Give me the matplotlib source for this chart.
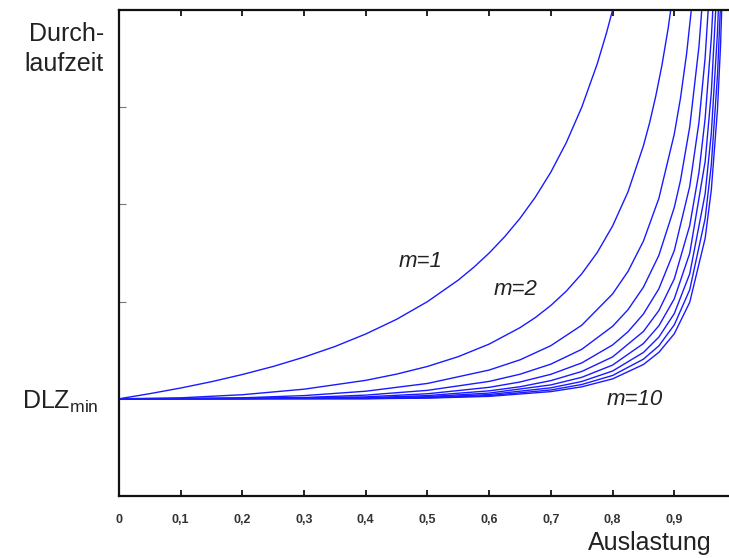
import matplotlib
matplotlib.use("Agg")
import matplotlib.pyplot as plt

plt.rcParams['font.family'] = ['Liberation Sans', 'DejaVu Sans']
plt.rcParams['mathtext.fontset'] = 'custom'
plt.rcParams['mathtext.rm'] = 'Liberation Sans'
plt.rcParams['mathtext.it'] = 'Liberation Sans:italic'

# Auslastung (rho) und Durchlaufzeit (in Vielfachen von DLZ_min)
rho_m1 = [0, 0.05, 0.1, 0.15, 0.2, 0.25, 0.3, 0.35, 0.4, 0.45, 0.5, 0.55, 0.575, 0.6,
          0.625, 0.65, 0.675, 0.7, 0.725, 0.75, 0.775, 0.79, 0.8, 0.82]
dlz_m1 = [1, 1.053, 1.111, 1.176, 1.25, 1.333, 1.429, 1.538, 1.667, 1.818, 2.0, 2.222, 2.353, 2.5,
          2.667, 2.857, 3.077, 3.333, 3.636, 4.0, 4.444, 4.762, 5.0, 5.556]

rho_m2 = [0, 0.1, 0.2, 0.3, 0.4, 0.45, 0.5, 0.55, 0.6, 0.65, 0.675, 0.7, 0.725, 0.75, 0.775,
          0.8, 0.825, 0.85, 0.86, 0.87, 0.88, 0.89, 0.9]
dlz_m2 = [1, 1.010, 1.042, 1.099, 1.190, 1.254, 1.333, 1.434, 1.563, 1.732, 1.837, 1.961, 2.108, 2.286, 2.504,
          2.778, 3.130, 3.604, 3.840, 4.115, 4.433, 4.810, 5.263]

rho_m3 = [0, 0.1, 0.2, 0.3, 0.4, 0.5, 0.6, 0.65, 0.7, 0.75, 0.8, 0.825, 0.85, 0.875, 0.9, 0.91, 0.92, 0.93]
dlz_m3 = [1, 1.001, 1.010, 1.033, 1.078, 1.158, 1.296, 1.401, 1.547, 1.757, 2.079, 2.311, 2.623, 3.062, 3.724, 4.092, 4.553, 5.146]

rho_m4 = [0, 0.2, 0.3, 0.4, 0.5, 0.6, 0.65, 0.7, 0.75, 0.8, 0.825, 0.85, 0.875, 0.9, 0.91, 0.925, 0.94, 0.95]
dlz_m4 = [1, 1.003, 1.013, 1.038, 1.087, 1.179, 1.253, 1.357, 1.509, 1.746, 1.917, 2.149, 2.476, 2.969, 3.245, 3.797, 4.626, 5.457]

rho_m5 = [0, 0.2, 0.4, 0.5, 0.6, 0.65, 0.7, 0.75, 0.8, 0.825, 0.85, 0.875, 0.9, 0.925, 0.94, 0.95, 0.96]
dlz_m5 = [1, 1.001, 1.020, 1.052, 1.118, 1.173, 1.252, 1.369, 1.554, 1.690, 1.873, 2.132, 2.525, 3.185, 3.847, 4.511, 5.509]

rho_m6 = [0, 0.4, 0.5, 0.6, 0.65, 0.7, 0.75, 0.8, 0.85, 0.875, 0.9, 0.925, 0.94, 0.95, 0.96, 0.965]
dlz_m6 = [1, 1.011, 1.033, 1.082, 1.124, 1.187, 1.281, 1.431, 1.693, 1.908, 2.234, 2.782, 3.333, 3.885, 4.713, 5.309]

rho_m7 = [0, 0.4, 0.5, 0.6, 0.7, 0.75, 0.8, 0.85, 0.875, 0.9, 0.925, 0.95, 0.96, 0.97]
dlz_m7 = [1, 1.007, 1.022, 1.059, 1.143, 1.221, 1.347, 1.569, 1.751, 2.029, 2.497, 3.441, 4.152, 5.340]

rho_m8 = [0, 0.4, 0.5, 0.6, 0.7, 0.75, 0.8, 0.85, 0.875, 0.9, 0.925, 0.95, 0.96, 0.97, 0.975]
dlz_m8 = [1, 1.004, 1.015, 1.044, 1.113, 1.178, 1.286, 1.477, 1.635, 1.877, 2.285, 3.110, 3.732, 4.771, 5.602]

rho_m9 = [0, 0.4, 0.5, 0.6, 0.7, 0.75, 0.8, 0.85, 0.875, 0.9, 0.925, 0.95, 0.96, 0.97, 0.975]
dlz_m9 = [1, 1.002, 1.010, 1.033, 1.091, 1.147, 1.240, 1.408, 1.545, 1.761, 2.122, 2.855, 3.407, 4.329, 5.069]

rho_m10 = [0, 0.4, 0.5, 0.6, 0.7, 0.75, 0.8, 0.85, 0.875, 0.9, 0.925, 0.95, 0.96, 0.97, 0.975, 0.98]
dlz_m10 = [1, 1.001, 1.007, 1.025, 1.074, 1.123, 1.205, 1.353, 1.478, 1.669, 1.993, 2.651, 3.148, 3.978, 4.643, 5.641]

curves = [(rho_m1, dlz_m1), (rho_m2, dlz_m2), (rho_m3, dlz_m3), (rho_m4, dlz_m4),
          (rho_m5, dlz_m5), (rho_m6, dlz_m6), (rho_m7, dlz_m7), (rho_m8, dlz_m8),
          (rho_m9, dlz_m9), (rho_m10, dlz_m10)]

x_ticks = [0, 0.1, 0.2, 0.3, 0.4, 0.5, 0.6, 0.7, 0.8, 0.9]
x_labels = ['0', '0,1', '0,2', '0,3', '0,4', '0,5', '0,6', '0,7', '0,8', '0,9']
y_ticks = [1, 2, 3, 4]
y_labels = ['DLZ$_{\\mathregular{min}}$', '', '', '']

fig = plt.figure(figsize=(7.29, 5.58), dpi=100)
# Achse läuft rechts über den Bildrand hinaus (wie im Original)
ax = fig.add_axes([119 / 729, 62 / 558, 617 / 729, 486 / 558])

for rho, dlz in curves:
    ax.plot(rho, dlz, color='#1a1aff', lw=1.0)

ax.set_xlim(0, 1)
ax.set_ylim(0, 5)

ax.set_xticks(x_ticks, labels=x_labels)
ax.set_yticks(y_ticks, labels=y_labels)
for lab in ax.get_xticklabels():
    lab.set_fontweight('bold')
    lab.set_fontsize(9)
    lab.set_color('#333333')
for lab in ax.get_yticklabels():
    lab.set_fontsize(18)
    lab.set_color('#222222')

ax.tick_params(axis='x', direction='in', top=True, length=4, width=1.2, pad=13)
ax.tick_params(axis='y', direction='in', length=5, width=0.8, color='#777777', pad=15)

for s in ax.spines.values():
    s.set_linewidth(1.6)
    s.set_color('#111111')

ax.text(-15 / 617, 4.6, 'Durch-\nlaufzeit', transform=ax.transData, ha='right', va='center',
        fontsize=18, color='#222222', linespacing=1.35)
ax.text(0.86, -0.48, 'Auslastung', ha='center', va='center', fontsize=18, color='#222222',
        clip_on=False)

ax.text(0.488, 2.41, 'm=1', style='italic', fontsize=16, ha='center', va='center', color='#222222')
ax.text(0.642, 2.12, 'm=2', style='italic', fontsize=16, ha='center', va='center', color='#222222')
ax.text(0.836, 0.99, 'm=10', style='italic', fontsize=16, ha='center', va='center', color='#222222')

fig.savefig('out.png', dpi=100)
